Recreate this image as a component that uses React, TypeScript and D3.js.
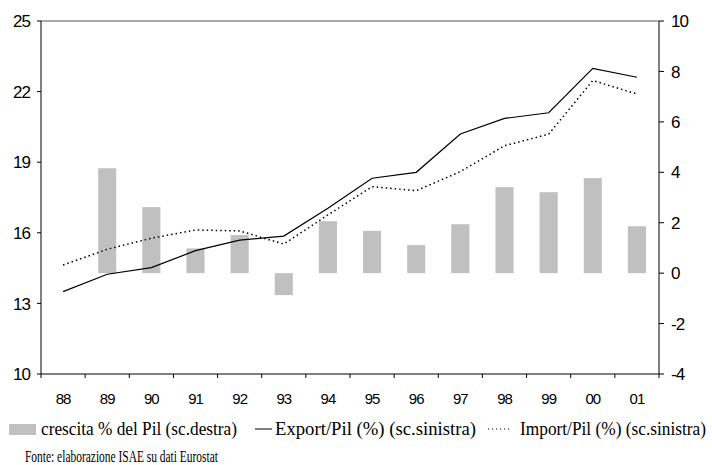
import { scaleBand, scaleLinear, line } from 'd3'

const width = 712
const height = 465

const margin = { top: 21, right: 53, bottom: 91, left: 41 }

const years = ['88', '89', '90', '91', '92', '93', '94', '95', '96', '97', '98', '99', '00', '01']
const exportPil = [13.5, 14.24, 14.52, 15.24, 15.69, 15.86, 17.04, 18.32, 18.57, 20.2, 20.86, 21.1, 22.99, 22.61]
const importPil = [14.63, 15.3, 15.77, 16.12, 16.08, 15.52, 16.76, 17.96, 17.79, 18.6, 19.7, 20.19, 22.47, 21.9]
const pilGrowth = [null, 4.16, 2.62, 0.98, 1.51, -0.87, 2.06, 1.68, 1.11, 1.94, 3.41, 3.21, 3.77, 1.86]

const leftTicks = [10, 13, 16, 19, 22, 25]
const rightTicks = [-4, -2, 0, 2, 4, 6, 8, 10]

const legendLabels = [
  'crescita % del Pil (sc.destra)',
  'Export/Pil (%) (sc.sinistra)',
  'Import/Pil (%) (sc.sinistra)'
]
const sourceNote = 'Fonte: elaborazione ISAE su dati  Eurostat'

const sans = '"Liberation Sans", Arial, sans-serif'
const serif = '"Liberation Serif", "Times New Roman", serif'

function App() {
  const innerWidth = width - margin.left - margin.right
  const innerHeight = height - margin.top - margin.bottom

  const xScale = scaleBand<string>().domain(years).range([0, innerWidth]).padding(0)
  const bw = xScale.bandwidth()
  const cx = (y: string) => (xScale(y) as number) + bw / 2

  const yLeft = scaleLinear().domain([10, 25]).range([innerHeight, 0])
  const yRight = scaleLinear().domain([-4, 10]).range([innerHeight, 0])

  const lineGen = line<number>()
    .x((_, i) => cx(years[i]))
    .y((d) => yLeft(d))

  const barW = bw * 0.41
  const legendY = 429
  const legendBase = 435

  return (
    <svg
      width={width}
      height={height}
      style={{ position: 'absolute', left: 0, top: 0, background: '#fff' }}
    >
      <g transform={`translate(${margin.left},${margin.top})`}>
        {/* bars on the right scale */}
        {pilGrowth.map((v, i) =>
          v == null ? null : (
            <rect
              key={years[i]}
              x={cx(years[i]) - barW / 2}
              y={yRight(Math.max(0, v))}
              width={barW}
              height={Math.abs(yRight(v) - yRight(0))}
              fill="#c0c0c0"
            />
          )
        )}

        <path d={lineGen(importPil) || ''} fill="none" stroke="#000" strokeWidth={1.5} strokeDasharray="1.5 3" />
        <path d={lineGen(exportPil) || ''} fill="none" stroke="#000" strokeWidth={1.2} />

        {/* frame */}
        <line x1={0} x2={innerWidth} y1={0} y2={0} stroke="#555" strokeWidth={1} />
        <line x1={0} x2={0} y1={0} y2={innerHeight} stroke="#000" strokeWidth={1} />
        <line x1={innerWidth} x2={innerWidth} y1={0} y2={innerHeight} stroke="#000" strokeWidth={1} />
        <line x1={0} x2={innerWidth} y1={innerHeight} y2={innerHeight} stroke="#000" strokeWidth={1} />

        {/* left axis */}
        {leftTicks.map((t) => (
          <g key={t} transform={`translate(0,${yLeft(t)})`}>
            <line x1={-4} x2={0} stroke="#000" />
            <text x={-11} dy="0.36em" textAnchor="end" fontFamily={sans} fontSize={17} letterSpacing={-1}>
              {t}
            </text>
          </g>
        ))}

        {/* right axis */}
        {rightTicks.map((t) => (
          <g key={t} transform={`translate(${innerWidth},${yRight(t)})`}>
            <line x1={0} x2={5} stroke="#000" />
            <text x={12} dy="0.36em" textAnchor="start" fontFamily={sans} fontSize={17} letterSpacing={-1}>
              {t}
            </text>
          </g>
        ))}

        {/* x axis */}
        {years.map((y) => (
          <line key={'t' + y} x1={xScale(y)} x2={xScale(y)} y1={innerHeight} y2={innerHeight + 4} stroke="#000" />
        ))}
        <line x1={innerWidth} x2={innerWidth} y1={innerHeight} y2={innerHeight + 4} stroke="#000" />
        {years.map((y) => (
          <text
            key={'l' + y}
            x={cx(y)}
            y={innerHeight + 30}
            textAnchor="middle"
            fontFamily={sans}
            fontSize={15}
            letterSpacing={-1}
          >
            {y}
          </text>
        ))}
      </g>

      {/* legend */}
      <rect x={9} y={424} width={27} height={11} fill="#c0c0c0" />
      <text x={41} y={legendBase} fontFamily={serif} fontSize={18} textLength={196} lengthAdjust="spacingAndGlyphs">
        {legendLabels[0]}
      </text>
      <line x1={255} x2={272} y1={legendY} y2={legendY} stroke="#000" strokeWidth={1} />
      <text x={275} y={legendBase} fontFamily={serif} fontSize={18} textLength={201} lengthAdjust="spacingAndGlyphs">
        {legendLabels[1]}
      </text>
      <line x1={488} x2={512} y1={legendY} y2={legendY} stroke="#000" strokeWidth={1} strokeDasharray="1.2 2.8" />
      <text x={520} y={legendBase} fontFamily={serif} fontSize={18} textLength={186} lengthAdjust="spacingAndGlyphs">
        {legendLabels[2]}
      </text>

      <text x={25} y={462} fontFamily={serif} fontSize={16} textLength={193} lengthAdjust="spacingAndGlyphs">
        {sourceNote}
      </text>
    </svg>
  )
}

export default App
